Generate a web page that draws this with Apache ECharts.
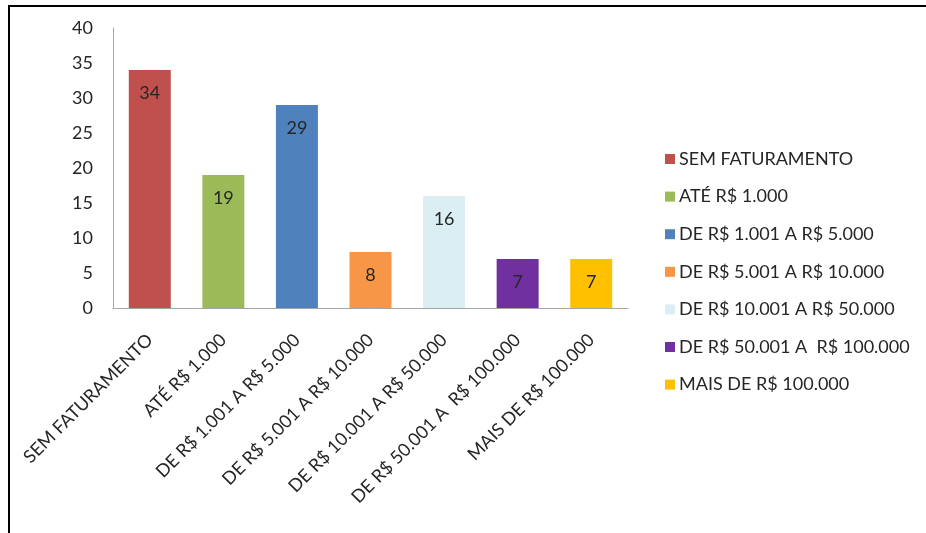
<!DOCTYPE html>
<html>
<head>
<meta charset="utf-8">
<script src="https://cdn.jsdelivr.net/npm/echarts@6/dist/echarts.min.js"></script>
<style>
html,body{margin:0;padding:0;background:#fff;}
#c{width:926px;height:533px;}
</style>
</head>
<body>
<div id="c"></div>
<script>
const categories = ['SEM FATURAMENTO','ATÉ R$ 1.000','DE R$ 1.001 A R$ 5.000','DE R$ 5.001 A R$ 10.000','DE R$ 10.001 A R$ 50.000','DE R$ 50.001 A  R$ 100.000','MAIS DE R$ 100.000'];
const values = [34, 19, 29, 8, 16, 7, 7];
const colors = ['#C0504D','#9BBB59','#4F81BD','#F79646','#DBEEF4','#7030A0','#FFC000'];
const yTicks = [0, 5, 10, 15, 20, 25, 30, 35, 40];

const FONT = 'Lato, "Open Sans", sans-serif';
const TXT = '#262626';

const series = categories.map((name, i) => ({
  name: name,
  type: 'bar',
  stack: 'all',
  barWidth: 42,
  itemStyle: { color: colors[i] },
  label: {
    show: true, position: 'insideTop', distance: 14,
    color: TXT, fontSize: 18, fontFamily: FONT
  },
  emphasis: { disabled: true },
  data: categories.map((c, j) => j === i ? values[i] : '-')
}));

const chart = echarts.init(document.getElementById('c'), null, { renderer: 'canvas' });
chart.setOption({
  animation: false,
  backgroundColor: '#fff',
  textStyle: { fontFamily: FONT },
  grid: { left: 113, top: 28, width: 515, height: 280, containLabel: false },
  legend: {
    orient: 'vertical',
    left: 660, top: 144,
    itemWidth: 10, itemHeight: 10, itemGap: 17.6,
    icon: 'rect',
    textStyle: { color: TXT, fontSize: 18, fontFamily: FONT, lineHeight: 20, padding: [0,0,0,-1] },
    data: categories
  },
  xAxis: {
    type: 'category',
    data: categories,
    axisLine: { lineStyle: { color: '#A6A6A6', width: 1 } },
    axisTick: { show: false },
    axisLabel: { rotate: 45, interval: 0, margin: 29, color: TXT, fontSize: 18, fontFamily: FONT }
  },
  yAxis: {
    type: 'value',
    min: yTicks[0], max: yTicks[yTicks.length - 1], interval: 5,
    splitLine: { show: false },
    axisLine: { show: true, lineStyle: { color: '#A6A6A6', width: 1 } },
    axisTick: { show: false },
    axisLabel: { margin: 20, color: TXT, fontSize: 18, fontFamily: FONT }
  },
  graphic: [
    { type: 'line', shape: { x1: 8, y1: 6, x2: 926, y2: 6 }, style: { stroke: '#000', lineWidth: 2 }, silent: true },
    { type: 'line', shape: { x1: 9, y1: 5, x2: 9, y2: 533 }, style: { stroke: '#000', lineWidth: 2 }, silent: true }
  ],
  series: series
});
</script>
</body>
</html>
